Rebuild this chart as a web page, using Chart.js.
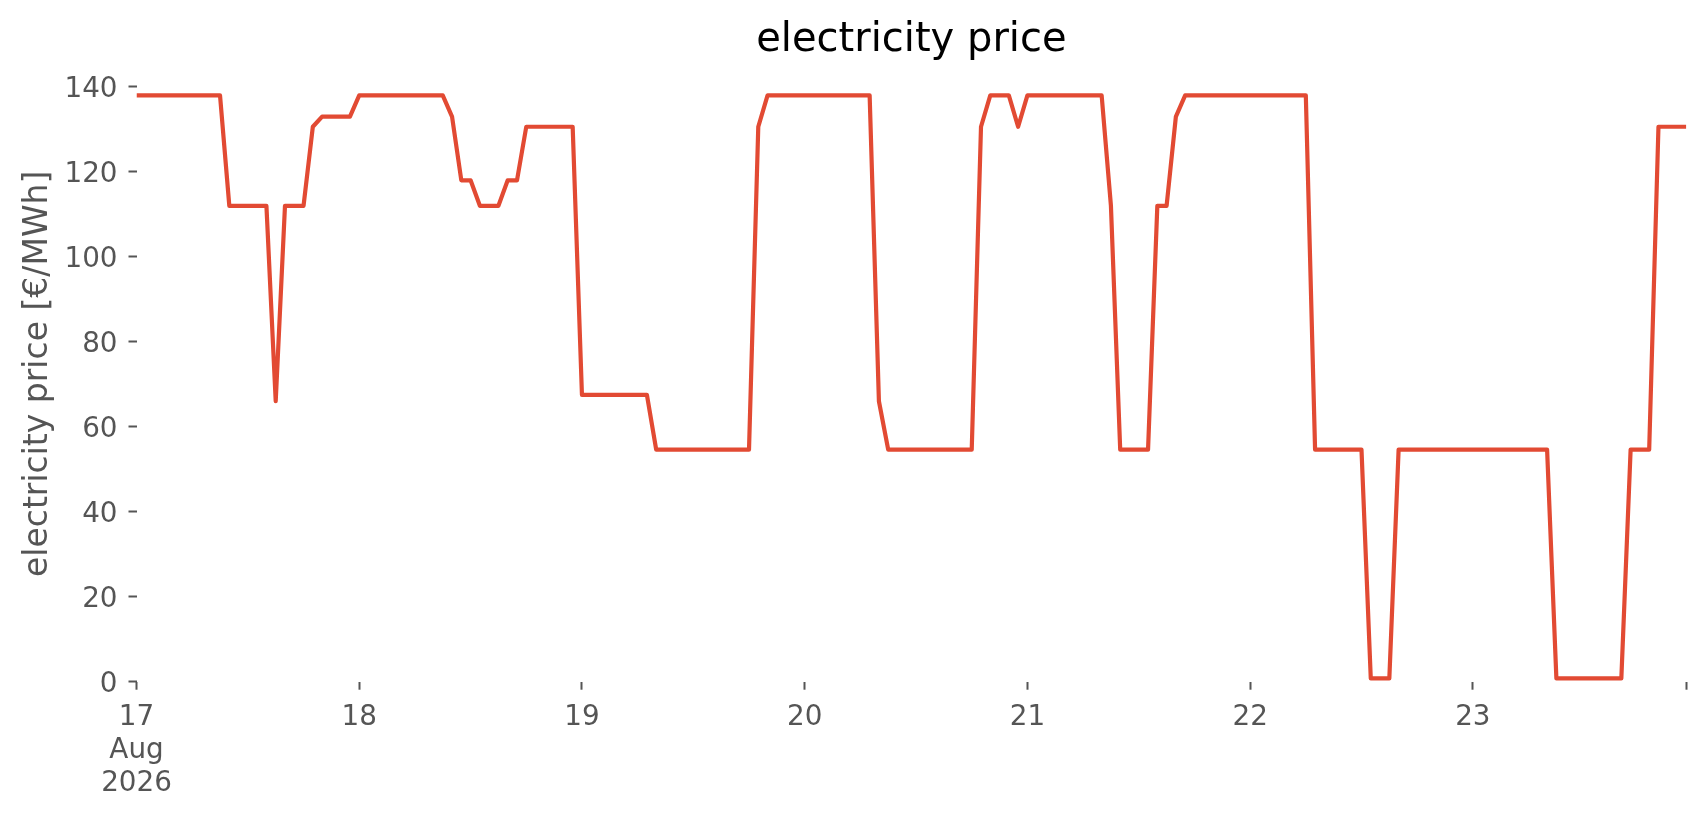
<!DOCTYPE html>
<html>
<head>
<meta charset="utf-8">
<title>electricity price</title>
<script src="https://cdn.jsdelivr.net/npm/chart.js@4.4.1/dist/chart.umd.min.js"></script>
<style>
  html, body { margin: 0; padding: 0; background: #ffffff; }
  #chartBox { position: relative; width: 1706px; height: 815px; }
</style>
</head>
<body>
<div id="chartBox"><canvas id="myChart"></canvas></div>
<script>
'use strict';

/** @desc Day of month of each plotted day (hourly data, 24 values per day) */
const DAY_LABELS = ['17', '18', '19', '20', '21', '22', '23'];
const MONTH_LABEL = 'Aug';
const YEAR_LABEL = '2026';

/** @desc Hourly electricity price in €/MWh, one array per day */
const PRICE_AUG_17 = [138, 138, 138, 138, 138, 138, 138, 138, 138, 138, 112, 112,
  112, 112, 112, 66, 112, 112, 112, 130.6, 133, 133, 133, 133];
const PRICE_AUG_18 = [138, 138, 138, 138, 138, 138, 138, 138, 138, 138, 133, 118,
  118, 112, 112, 112, 118, 118, 130.6, 130.6, 130.6, 130.6, 130.6, 130.6];
const PRICE_AUG_19 = [67.5, 67.5, 67.5, 67.5, 67.5, 67.5, 67.5, 67.5, 54.6, 54.6, 54.6, 54.6,
  54.6, 54.6, 54.6, 54.6, 54.6, 54.6, 54.6, 130.6, 138, 138, 138, 138];
const PRICE_AUG_20 = [138, 138, 138, 138, 138, 138, 138, 138, 66, 54.6, 54.6, 54.6,
  54.6, 54.6, 54.6, 54.6, 54.6, 54.6, 54.6, 130.6, 138, 138, 138, 130.6];
const PRICE_AUG_21 = [138, 138, 138, 138, 138, 138, 138, 138, 138, 112, 54.6, 54.6,
  54.6, 54.6, 112, 112, 133, 138, 138, 138, 138, 138, 138, 138];
const PRICE_AUG_22 = [138, 138, 138, 138, 138, 138, 138, 54.6, 54.6, 54.6, 54.6, 54.6,
  54.6, 0.8, 0.8, 0.8, 54.6, 54.6, 54.6, 54.6, 54.6, 54.6, 54.6, 54.6];
const PRICE_AUG_23 = [54.6, 54.6, 54.6, 54.6, 54.6, 54.6, 54.6, 54.6, 54.6, 0.8, 0.8, 0.8,
  0.8, 0.8, 0.8, 0.8, 0.8, 54.6, 54.6, 54.6, 130.6, 130.6, 130.6, 130.6];

const PRICES_BY_DAY = [PRICE_AUG_17, PRICE_AUG_18, PRICE_AUG_19, PRICE_AUG_20,
  PRICE_AUG_21, PRICE_AUG_22, PRICE_AUG_23];

/** @desc y axis: tick step and upper limit (matplotlib style margin above 140) */
const Y_STEP = 20;
const Y_MAX = 144.9;

/** @desc Points as {x: hours since 17 Aug 00:00, y: price} */
const POINTS = [];
PRICES_BY_DAY.forEach((dayPrices, day) => {
  dayPrices.forEach((price, hour) => {
    POINTS.push({x: day * 24 + hour, y: price});
  });
});
const LAST_HOUR = POINTS.length - 1;

const GREY = '#555555';
const FONT = 'DejaVu Sans';

const DATA = {
  datasets: [{
    label: 'electricity price',
    data: POINTS,
    borderColor: '#E24A33',
    borderWidth: 4.2,
    borderJoinStyle: 'round',
    pointRadius: 0,
    tension: 0,
    fill: false
  }]
};

const SCALES = {
  x: {
    type: 'linear',
    min: 0,
    max: LAST_HOUR,
    grid: {
      drawOnChartArea: false,
      drawTicks: true,
      tickLength: 8,
      tickColor: GREY,
      tickWidth: 2
    },
    border: {display: false},
    ticks: {
      stepSize: 24,
      autoSkip: false,
      maxRotation: 0,
      padding: 11,
      color: GREY,
      font: {family: FONT, size: 27.8, lineHeight: 1.2},
      callback: (value) => {
        if (value % 24 !== 0) {
          return '';
        }
        const day = value / 24;
        return day === 0 ? [DAY_LABELS[0], MONTH_LABEL, YEAR_LABEL] : DAY_LABELS[day];
      }
    },
    afterFit: (scale) => { scale.height = 133.3; }
  },
  y: {
    min: 0,
    max: Y_MAX,
    grid: {
      drawOnChartArea: false,
      drawTicks: true,
      tickLength: 8,
      tickColor: GREY,
      tickWidth: 2
    },
    border: {display: false},
    ticks: {
      stepSize: Y_STEP,
      includeBounds: false,
      padding: 11,
      labelOffset: 3,
      color: GREY,
      font: {family: FONT, size: 27.8}
    },
    title: {
      display: true,
      text: 'electricity price [€/MWh]',
      color: GREY,
      font: {family: FONT, size: 33, lineHeight: 1.2},
      padding: {top: 19, bottom: 0}
    },
    afterFit: (scale) => { scale.width = 136.5; }
  }
};

/** @desc Center the title over the plot area, as matplotlib does */
const TITLE_OVER_AXES = {
  id: 'titleOverAxes',
  afterLayout: (chart) => {
    const block = chart.titleBlock;
    if (block) {
      block.left = chart.chartArea.left;
      block.right = chart.chartArea.right;
      block.width = block.right - block.left;
    }
  }
};

const OPTIONS = {
  responsive: true,
  maintainAspectRatio: false,
  devicePixelRatio: 1,
  animation: false,
  layout: {padding: {left: 0, right: 19.7, top: 0, bottom: 0}},
  plugins: {
    legend: {display: false},
    tooltip: {enabled: false},
    title: {
      display: true,
      text: 'electricity price',
      color: '#000000',
      font: {family: FONT, size: 40, weight: 'normal', lineHeight: 1.2},
      padding: {top: 17, bottom: 1}
    }
  },
  scales: SCALES
};

const CTX = document.getElementById('myChart').getContext('2d');
let myChart = new Chart(CTX, {
  type: 'line',
  data: DATA,
  options: OPTIONS,
  plugins: [TITLE_OVER_AXES]
});
</script>
</body>
</html>
